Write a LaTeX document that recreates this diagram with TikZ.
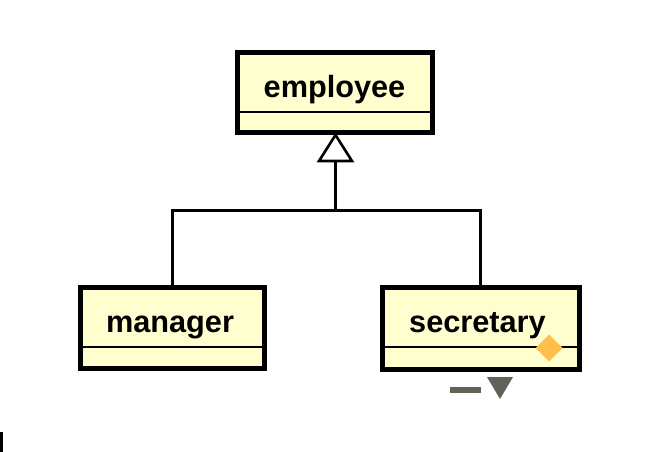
\documentclass[tikz,border=0pt]{standalone}
\usepackage{fontspec}
\setmainfont{Liberation Sans}
\definecolor{classfill}{HTML}{FEFECE}
\definecolor{marker}{HTML}{FFBF4A}
\definecolor{ctrl}{HTML}{62625A}
\tikzset{
  classbox/.style={draw=black,fill=classfill,line width=5pt,rectangle,inner sep=0pt,minimum width=#1},
  classname/.style={anchor=base,inner sep=0pt,font=\fontsize{30.7}{30.7}\selectfont\bfseries,text=black},
  divider/.style={draw=black,line width=2.6pt},
  link/.style={draw=black,line width=3pt},
  inherit/.style={draw=black,fill=white,line width=2.6pt,line join=miter}
}
\begin{document}
\begin{tikzpicture}[x=1pt,y=-1pt]
\useasboundingbox (0,0) rectangle (665,452);
% classes
\node[classbox=195pt,minimum height=80pt] (employee) at (335,92.5) {};
\node[classbox=184pt,minimum height=81pt] (manager) at (172.5,328) {};
\node[classbox=197pt,minimum height=82pt] (secretary) at (481,328.5) {};
\node[classname] (employeeName) at (334.5,98) {employee};
\node[classname] (managerName) at (170,332) {manager};
\node[classname] (secretaryName) at (477.5,332) {secretary};
\path[divider] (employee.west |- 0,112) -- (employee.east |- 0,112);
\path[divider] (manager.west |- 0,347) -- (manager.east |- 0,347);
\path[divider] (secretary.west |- 0,347) -- (secretary.east |- 0,347);
% generalisation
\coordinate (tee) at (335.5,210);
\coordinate (headbase) at (335.5,161);
\path[link] (manager.north -| 172,0) |- (tee) -| (secretary.north -| 480,0);
\path[link] (tee) -- (headbase);
\path[inherit] (335.5,135) -- (352,161) -- (319,161) -- cycle;
% selection marker and controls
\fill[marker] (549,334.5) -- (562.5,348) -- (549,361.5) -- (535.5,348) -- cycle;
\fill[ctrl] (450,387) rectangle (481,393);
\fill[ctrl] (487,377) -- (513,377) -- (500,399) -- cycle;
\fill[black] (0,432) rectangle (3,452);
\end{tikzpicture}
\end{document}
